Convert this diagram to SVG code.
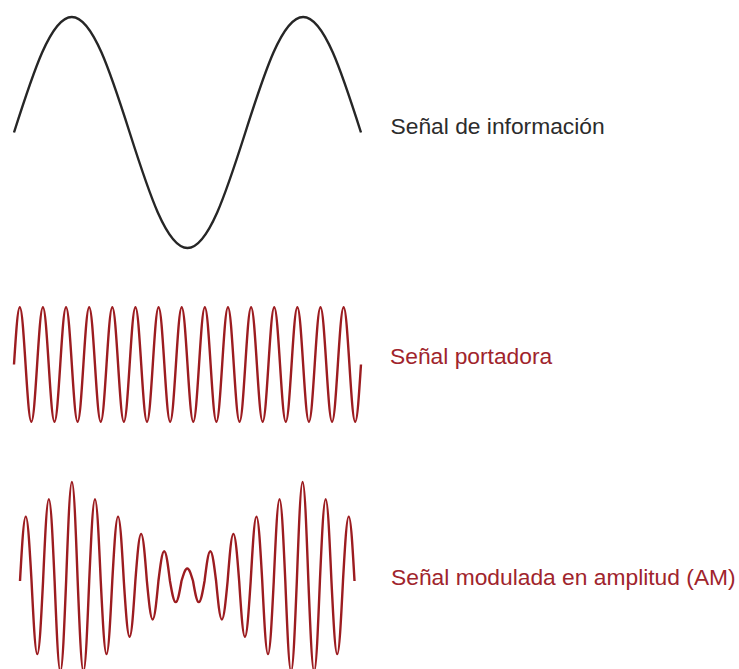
<svg xmlns="http://www.w3.org/2000/svg" width="739" height="669" viewBox="0 0 739 669">
<style>
.wave{fill:none;stroke-width:2.4;stroke-linejoin:round;stroke-linecap:butt}
.info{stroke:#262626}
.red{stroke:#9c1c20}
.lbl{font-family:"Liberation Sans",Arial,sans-serif;font-size:22.8px}
.lblInfo{fill:#2c2c2c}
.lblRed{fill:#a0242c}
</style>
<rect width="739" height="669" fill="#ffffff"/>
<g id="info-signal">
<path class="wave info" d="M14,132.5 c18.86,-59.17 36.9,-115.5 57.83,-115.5 c20.93,0 38.97,56.33 57.83,115.5 c18.86,59.17 36.9,115.5 57.83,115.5 c20.93,0 38.97,-56.33 57.83,-115.5 c18.86,-59.17 36.9,-115.5 57.83,-115.5 c20.93,0 38.97,56.33 57.83,115.5"/>
<text class="lbl lblInfo" x="390.5" y="134">Señal de información</text>
</g>
<g id="carrier-signal">
<path class="wave red" d="M14,364.5
c1.886,-29.3 3.69,-57.2 5.783,-57.2 c2.093,0 3.897,27.9 5.783,57.2 c1.886,29.3 3.69,57.2 5.783,57.2 c2.093,0 3.897,-27.9 5.783,-57.2
c1.886,-29.3 3.69,-57.2 5.783,-57.2 c2.093,0 3.897,27.9 5.783,57.2 c1.886,29.3 3.69,57.2 5.783,57.2 c2.093,0 3.897,-27.9 5.783,-57.2
c1.886,-29.3 3.69,-57.2 5.783,-57.2 c2.093,0 3.897,27.9 5.783,57.2 c1.886,29.3 3.69,57.2 5.783,57.2 c2.093,0 3.897,-27.9 5.783,-57.2
c1.886,-29.3 3.69,-57.2 5.783,-57.2 c2.093,0 3.897,27.9 5.783,57.2 c1.886,29.3 3.69,57.2 5.783,57.2 c2.093,0 3.897,-27.9 5.783,-57.2
c1.886,-29.3 3.69,-57.2 5.783,-57.2 c2.093,0 3.897,27.9 5.783,57.2 c1.886,29.3 3.69,57.2 5.783,57.2 c2.093,0 3.897,-27.9 5.783,-57.2
c1.886,-29.3 3.69,-57.2 5.783,-57.2 c2.093,0 3.897,27.9 5.783,57.2 c1.886,29.3 3.69,57.2 5.783,57.2 c2.093,0 3.897,-27.9 5.783,-57.2
c1.886,-29.3 3.69,-57.2 5.783,-57.2 c2.093,0 3.897,27.9 5.783,57.2 c1.886,29.3 3.69,57.2 5.783,57.2 c2.093,0 3.897,-27.9 5.783,-57.2
c1.886,-29.3 3.69,-57.2 5.783,-57.2 c2.093,0 3.897,27.9 5.783,57.2 c1.886,29.3 3.69,57.2 5.783,57.2 c2.093,0 3.897,-27.9 5.783,-57.2
c1.886,-29.3 3.69,-57.2 5.783,-57.2 c2.093,0 3.897,27.9 5.783,57.2 c1.886,29.3 3.69,57.2 5.783,57.2 c2.093,0 3.897,-27.9 5.783,-57.2
c1.886,-29.3 3.69,-57.2 5.783,-57.2 c2.093,0 3.897,27.9 5.783,57.2 c1.886,29.3 3.69,57.2 5.783,57.2 c2.093,0 3.897,-27.9 5.783,-57.2
c1.886,-29.3 3.69,-57.2 5.783,-57.2 c2.093,0 3.897,27.9 5.783,57.2 c1.886,29.3 3.69,57.2 5.783,57.2 c2.093,0 3.897,-27.9 5.783,-57.2
c1.886,-29.3 3.69,-57.2 5.783,-57.2 c2.093,0 3.897,27.9 5.783,57.2 c1.886,29.3 3.69,57.2 5.783,57.2 c2.093,0 3.897,-27.9 5.783,-57.2
c1.886,-29.3 3.69,-57.2 5.783,-57.2 c2.093,0 3.897,27.9 5.783,57.2 c1.886,29.3 3.69,57.2 5.783,57.2 c2.093,0 3.897,-27.9 5.783,-57.2
c1.886,-29.3 3.69,-57.2 5.783,-57.2 c2.093,0 3.897,27.9 5.783,57.2 c1.886,29.3 3.69,57.2 5.783,57.2 c2.093,0 3.897,-27.9 5.783,-57.2
c1.886,-29.3 3.69,-57.2 5.783,-57.2 c2.093,0 3.897,27.9 5.783,57.2 c1.886,29.3 3.69,57.2 5.783,57.2 c2.093,0 3.897,-27.9 5.783,-57.2"/>
<text class="lbl lblRed" x="390" y="364">Señal portadora</text>
</g>
<g id="am-signal">
<path class="wave red" d="M20,581
c1.881,-32.992 3.68,-64.4 5.7675,-64.4 c2.087,0 3.887,31.408 5.7675,64.4
c1.881,37.424 3.68,73.05 5.7675,73.05 c2.087,0 3.887,-35.626 5.7675,-73.05
c1.881,-41.855 3.68,-81.7 5.7675,-81.7 c2.087,0 3.887,39.845 5.7675,81.7
c1.881,46.286 3.68,90.35 5.7675,90.35 c2.087,0 3.887,-44.064 5.7675,-90.35
c1.881,-50.718 3.68,-99 5.7675,-99 c2.087,0 3.887,48.282 5.7675,99
c1.881,46.286 3.68,90.35 5.7675,90.35 c2.087,0 3.887,-44.064 5.7675,-90.35
c1.881,-41.855 3.68,-81.7 5.7675,-81.7 c2.087,0 3.887,39.845 5.7675,81.7
c1.881,37.424 3.68,73.05 5.7675,73.05 c2.087,0 3.887,-35.626 5.7675,-73.05
c1.881,-32.992 3.68,-64.4 5.7675,-64.4 c2.087,0 3.887,31.408 5.7675,64.4
c1.881,28.561 3.68,55.75 5.7675,55.75 c2.087,0 3.887,-27.189 5.7675,-55.75
c1.881,-24.129 3.68,-47.1 5.7675,-47.1 c2.087,0 3.887,22.971 5.7675,47.1
c1.881,19.698 3.68,38.45 5.7675,38.45 c2.087,0 3.887,-18.752 5.7675,-38.45
c1.881,-15.267 3.68,-29.8 5.7675,-29.8 c2.087,0 3.887,14.533 5.7675,29.8
c1.881,10.835 3.68,21.15 5.7675,21.15 c2.087,0 3.887,-10.315 5.7675,-21.15
c1.881,-6.404 3.68,-12.5 5.7675,-12.5 c2.087,0 3.887,6.096 5.7675,12.5
c1.881,10.835 3.68,21.15 5.7675,21.15 c2.087,0 3.887,-10.315 5.7675,-21.15
c1.881,-15.267 3.68,-29.8 5.7675,-29.8 c2.087,0 3.887,14.533 5.7675,29.8
c1.881,19.698 3.68,38.45 5.7675,38.45 c2.087,0 3.887,-18.752 5.7675,-38.45
c1.881,-24.129 3.68,-47.1 5.7675,-47.1 c2.087,0 3.887,22.971 5.7675,47.1
c1.881,28.561 3.68,55.75 5.7675,55.75 c2.087,0 3.887,-27.189 5.7675,-55.75
c1.881,-32.992 3.68,-64.4 5.7675,-64.4 c2.087,0 3.887,31.408 5.7675,64.4
c1.881,37.424 3.68,73.05 5.7675,73.05 c2.087,0 3.887,-35.626 5.7675,-73.05
c1.881,-41.855 3.68,-81.7 5.7675,-81.7 c2.087,0 3.887,39.845 5.7675,81.7
c1.881,46.286 3.68,90.35 5.7675,90.35 c2.087,0 3.887,-44.064 5.7675,-90.35
c1.881,-50.718 3.68,-99 5.7675,-99 c2.087,0 3.887,48.282 5.7675,99
c1.881,46.286 3.68,90.35 5.7675,90.35 c2.087,0 3.887,-44.064 5.7675,-90.35
c1.881,-41.855 3.68,-81.7 5.7675,-81.7 c2.087,0 3.887,39.845 5.7675,81.7
c1.881,37.424 3.68,73.05 5.7675,73.05 c2.087,0 3.887,-35.626 5.7675,-73.05
c1.881,-32.992 3.68,-64.4 5.7675,-64.4 c2.087,0 3.887,31.408 5.7675,64.4"/>
<text class="lbl lblRed" x="391" y="585">Señal modulada en amplitud (AM)</text>
</g>
</svg>
